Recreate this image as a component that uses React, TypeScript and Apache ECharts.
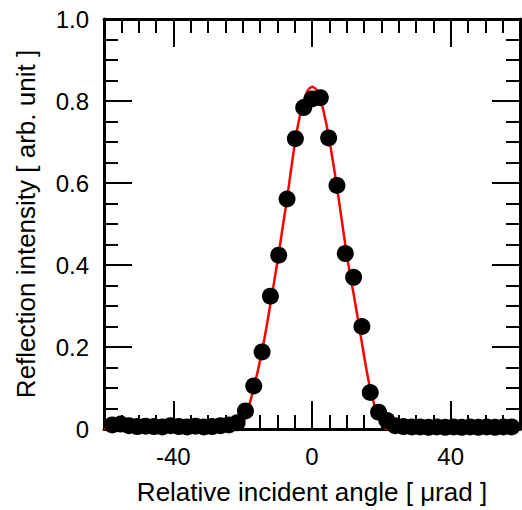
import React, { useEffect, useRef } from "react";
import * as echarts from "echarts";

const pointX = [
  -57.6, -55.2, -52.8, -50.4, -48, -45.6, -43.2, -40.8, -38.4, -36, -33.6, -31.2, -28.8, -26.4, -24, -21.6,
  -19.2, -16.8, -14.4, -12, -9.6, -7.2, -4.8, -2.4, 0, 2.4, 4.8, 7.2, 9.6, 12, 14.4, 16.8, 19.2,
  21.6, 24, 26.4, 28.8, 31.2, 33.6, 36, 38.4, 40.8, 43.2, 45.6, 48, 50.4, 52.8, 55.2, 57.6,
];
const pointY = [
  0.01, 0.012, 0.008, 0.006, 0.007, 0.006, 0.005, 0.008, 0.006, 0.005, 0.007, 0.005, 0.006, 0.008, 0.01, 0.015,
  0.044, 0.105, 0.188, 0.324, 0.424, 0.561, 0.708, 0.784, 0.805, 0.808, 0.71, 0.594, 0.428, 0.37, 0.25, 0.089, 0.041,
  0.021, 0.008, 0.006, 0.005, 0.005, 0.004, 0.005, 0.004, 0.005, 0.004, 0.005, 0.004, 0.005, 0.004, 0.005, 0.005,
];
const fitX = [
  -60, -21.6, -20.4, -19.2, -18, -16.8, -15.6, -14.4, -13.2, -12, -10.8, -9.6, -8.4, -7.2, -6, -4.8, -3.6, -2.4, -1.2,
  0, 1.2, 2.4, 3.6, 4.8, 6, 7.2, 8.4, 9.6, 10.8, 12, 13.2, 14.4, 15.6, 16.8, 18, 19.2, 20.4, 21.6, 60,
];
const fitY = [
  0, 0, 0.008, 0.03, 0.062, 0.1, 0.143, 0.19, 0.245, 0.305, 0.365, 0.428, 0.495, 0.562, 0.635, 0.705, 0.76, 0.8, 0.826,
  0.835, 0.828, 0.805, 0.765, 0.715, 0.655, 0.59, 0.52, 0.45, 0.385, 0.33, 0.27, 0.21, 0.15, 0.098, 0.058, 0.03, 0.01, 0, 0,
];
const xMajorTicks = [-40, 0, 40];
const xTitle = "Relative incident angle [ μrad ]";
const yTitle = "Reflection intensity [ arb. unit ]";

const FONT = "'Liberation Sans', Arial, sans-serif";

export default function App() {
  const ref = useRef<HTMLDivElement>(null);
  useEffect(() => {
    if (!ref.current) return;
    const chart = echarts.init(ref.current, undefined, { renderer: "svg" });
    const axisLine = { show: true, onZero: false, lineStyle: { color: "#000", width: 3 } };
    const tickStyle = { color: "#000", width: 2 };
    const labelStyle = { color: "#000", fontSize: 24, fontFamily: FONT };
    const titleStyle = { color: "#000", fontSize: 26, fontFamily: FONT };
    const xMinor = (position: string) => ({
      type: "value",
      min: -60,
      max: 60,
      interval: 5,
      position,
      axisLine,
      axisTick: { show: true, inside: true, length: 14, lineStyle: tickStyle },
      axisLabel: { show: false },
      splitLine: { show: false },
    });
    const xMajor = (position: string, labels: boolean) => ({
      type: "value",
      min: -60,
      max: 60,
      interval: 20,
      position,
      axisLine: { show: false, onZero: false },
      axisTick: { show: true, inside: true, length: 28, lineStyle: tickStyle, customValues: xMajorTicks },
      axisLabel: labels
        ? { show: true, customValues: xMajorTicks, margin: 15, ...labelStyle }
        : { show: false },
      splitLine: { show: false },
      ...(labels
        ? { name: xTitle, nameLocation: "middle", nameGap: 50, nameTextStyle: titleStyle }
        : {}),
    });
    const yAx = (position: string, labels: boolean) => ({
      type: "value",
      min: 0,
      max: 1,
      interval: 0.2,
      position,
      axisLine,
      axisTick: { show: true, inside: true, length: 28, lineStyle: tickStyle },
      minorTick: { show: true, splitNumber: 4, length: 14, lineStyle: tickStyle },
      axisLabel: labels
        ? {
            show: true,
            margin: 15,
            formatter: (v: number) => (v === 0 ? "0" : v.toFixed(1)),
            ...labelStyle,
          }
        : { show: false },
      splitLine: { show: false },
      minorSplitLine: { show: false },
      ...(labels
        ? { name: yTitle, nameLocation: "middle", nameGap: 65, nameTextStyle: titleStyle }
        : {}),
    });
    chart.setOption({
      animation: false,
      backgroundColor: "#fff",
      grid: { left: 104, right: 2, top: 19, bottom: 74, containLabel: false },
      xAxis: [xMinor("bottom"), xMajor("bottom", true), xMinor("top"), xMajor("top", false)],
      yAxis: [yAx("left", true), yAx("right", false)],
      series: [
        {
          type: "line",
          data: fitX.map((x, i) => [x, fitY[i]]),
          xAxisIndex: 0,
          yAxisIndex: 0,
          showSymbol: false,
          symbol: "none",
          smooth: 0.2,
          lineStyle: { color: "#ff0000", width: 2.5 },
          z: 3,
        },
        {
          type: "scatter",
          data: pointX.map((x, i) => [x, pointY[i]]),
          xAxisIndex: 0,
          yAxisIndex: 0,
          symbol: "circle",
          symbolSize: 17,
          itemStyle: { color: "#000", opacity: 1 },
          z: 4,
        },
      ],
    });
    return () => chart.dispose();
  }, []);
  return (
    <div
      ref={ref}
      style={{ position: "fixed", left: 0, top: 0, width: 522, height: 510 }}
    />
  );
}
